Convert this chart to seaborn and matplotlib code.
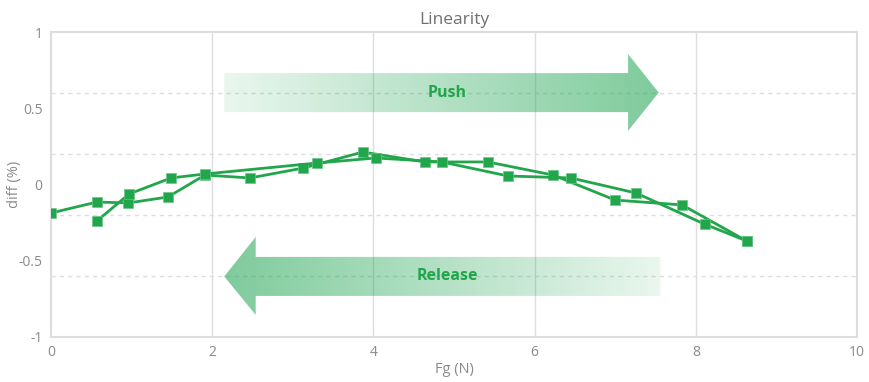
import matplotlib
matplotlib.use('Agg')
import matplotlib.pyplot as plt
from matplotlib.patches import Polygon
import seaborn as sns
import pandas as pd
import numpy as np

# Push (force going up)
push_fg = [0.00, 0.57, 0.96, 1.45, 1.91, 2.47, 3.13, 3.87, 4.64, 5.42, 6.23, 7.00, 7.83, 8.63]
push_diff = [-0.187, -0.115, -0.121, -0.082, 0.062, 0.043, 0.108, 0.213, 0.148, 0.148, 0.062, -0.102, -0.134, -0.370]

# Release (force going down)
release_fg = [8.63, 8.11, 7.26, 6.45, 5.67, 4.85, 4.03, 3.30, 1.91, 1.49, 0.97, 0.57]
release_diff = [-0.370, -0.260, -0.056, 0.043, 0.056, 0.148, 0.174, 0.141, 0.069, 0.043, -0.062, -0.239]

green = '#22a64b'
grid_c = '#dddddd'
text_c = '#8a8a8a'

df = pd.concat([
    pd.DataFrame({'Fg': push_fg, 'diff': push_diff, 'dir': 'Push'}),
    pd.DataFrame({'Fg': release_fg, 'diff': release_diff, 'dir': 'Release'}),
], ignore_index=True)

sns.set_style('white')
plt.rcParams['font.family'] = ['Open Sans', 'DejaVu Sans']

fig = plt.figure(figsize=(8.7, 3.82), dpi=100)
ax = fig.add_axes([0.0586, 0.118, 0.9264, 0.798])

# grid
for gx in [2, 4, 6, 8]:
    ax.axvline(gx, color=grid_c, lw=1, zorder=0)
for gy in [-0.6, -0.2, 0.2, 0.6]:
    ax.axhline(gy, color=grid_c, lw=1, ls=(0, (3, 3)), zorder=0)


# gradient arrows
def grad_arrow(verts, x0, x1, y0, y1, reverse=False):
    n = 256
    alpha = np.linspace(0.1, 0.6, n)
    if reverse:
        alpha = alpha[::-1]
    img = np.zeros((1, n, 4))
    img[0, :, 0] = 0.16
    img[0, :, 1] = 0.66
    img[0, :, 2] = 0.35
    img[0, :, 3] = alpha
    im = ax.imshow(img, extent=[x0, x1, y0, y1], aspect='auto', zorder=1,
                   interpolation='bilinear')
    poly = Polygon(verts, closed=True, facecolor='none', edgecolor='none',
                   transform=ax.transData)
    ax.add_patch(poly)
    im.set_clip_path(poly)


push_verts = [(2.15, 0.475), (7.16, 0.475), (7.16, 0.351), (7.54, 0.603),
              (7.16, 0.856), (7.16, 0.731), (2.15, 0.731)]
grad_arrow(push_verts, 2.15, 7.54, 0.35, 0.86)

rel_verts = [(7.56, -0.475), (2.54, -0.475), (2.54, -0.344), (2.15, -0.603),
             (2.54, -0.856), (2.54, -0.731), (7.56, -0.731)]
grad_arrow(rel_verts, 2.15, 7.56, -0.86, -0.34, reverse=True)

ax.text(4.92, 0.603, 'Push', color=green, fontsize=11.5, fontweight='bold',
        ha='center', va='center', zorder=3)
ax.text(4.92, -0.603, 'Release', color=green, fontsize=11.5, fontweight='bold',
        ha='center', va='center', zorder=3)

sns.lineplot(data=df, x='Fg', y='diff', hue='dir', palette=[green, green],
             units='dir', estimator=None, sort=False, marker='s', markersize=7.5,
             markeredgecolor='#6cc48a', markeredgewidth=0.5, linewidth=2,
             legend=False, ax=ax, zorder=4)

ax.set_xlim(0, 10)
ax.set_ylim(-1, 1)
ax.set_xticks([0, 2, 4, 6, 8, 10])
ax.set_yticks([-1, -0.5, 0, 0.5, 1])
ax.set_yticklabels(['-1', '-0.5', '0', '0.5', '1'])
ax.tick_params(length=0, colors=text_c, labelsize=10, pad=6)

for s in ax.spines.values():
    s.set_color(grid_c)
    s.set_linewidth(1.5)

ax.set_title('Linearity', color='#707070', fontsize=12.5, pad=6)
ax.set_xlabel('Fg (N)', color=text_c, fontsize=10.5, labelpad=1)
ax.set_ylabel('diff (%)', color=text_c, fontsize=10.5)
ax.yaxis.set_label_coords(-0.036, 0.5)

fig.savefig('out.png', dpi=100)
